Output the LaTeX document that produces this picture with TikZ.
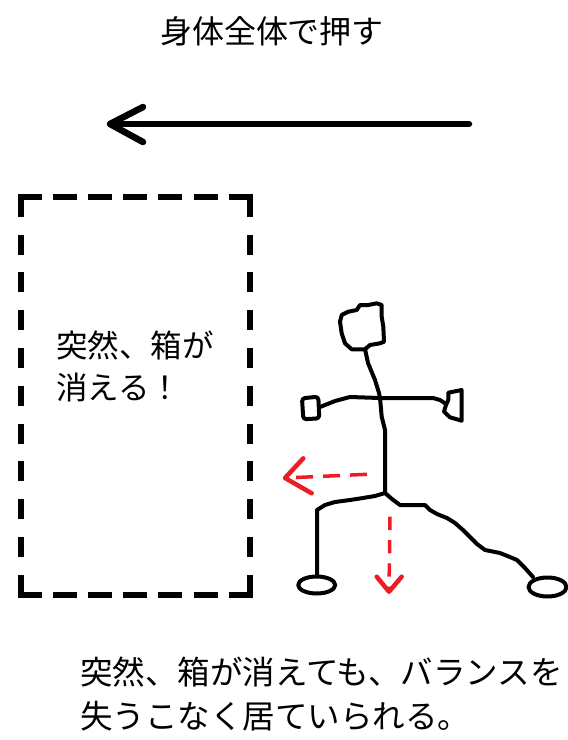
\documentclass[tikz,border=0pt]{standalone}
\usepackage{fontspec}
\setmainfont{Noto Sans CJK JP}
\definecolor{paintred}{RGB}{237,28,36}
\begin{document}
\begin{tikzpicture}[x=1pt,y=-1pt,
  label/.style={font=\fontsize{31.5}{42}\selectfont, inner sep=0pt, align=left},
  boxedge/.style={line width=5.5pt, line cap=butt},
  figure/.style={line width=4pt, line cap=round, line join=round},
  bigarrow/.style={line width=6.5pt, line cap=round, line join=round},
  hint/.style={paintred, line width=3.5pt, line cap=butt},
  hinthead/.style={paintred, line width=4.5pt, line cap=round, line join=round}]
\useasboundingbox (0,0) rectangle (568,740);

% heading and push direction
\node[label, font=\fontsize{32}{42}\selectfont] (title) at (272,31) {身体全体で押す};
\coordinate (pushstart) at (469,124);
\coordinate (pushtip) at (110,124);
\draw[bigarrow] (pushstart) -- (pushtip);
\draw[bigarrow] ([shift={(33,-17)}]pushtip) -- (pushtip) -- ([shift={(33,18)}]pushtip);

% the box that vanishes
\node[minimum width=229pt, minimum height=398pt, inner sep=0pt] (box) at (135.5,396) {};
\draw[boxedge, dash pattern=on 24pt off 11.1pt]
  ([xshift=-2.75pt]box.north west) -- ([xshift=2.75pt]box.north east);
\draw[boxedge, dash pattern=on 24pt off 11.1pt]
  ([xshift=-2.75pt]box.south west) -- ([xshift=2.75pt]box.south east);
\draw[boxedge, dash pattern=on 20pt off 17.8pt] (box.north west) -- (box.south west);
\draw[boxedge, dash pattern=on 20pt off 17.8pt] (box.north east) -- (box.south east);
\node[label, anchor=west] (boxtext) at (56,366) {突然、箱が\\消える！};

% stick figure
\coordinate (neck) at (365,349);
\coordinate (shoulder) at (380,398);
\coordinate (hip) at (385,493);
\draw[figure] (345,343.3) -- (341.7,333.3) -- (340,321.7) -- (341.7,315) -- (348.3,311.7)
  -- (356.7,310) -- (360,305) -- (368.3,305) -- (376.7,303.3) -- (381.7,305)
  -- (381.7,316.7) -- (383.3,326.7) -- (384,341.7) -- (380,343.3) -- (370,345)
  -- (365,349.3) -- (351.7,349.3) -- cycle;
\draw[figure] (neck) -- (368,363) -- (375,380) -- (379,393) -- (shoulder)
  -- (381.7,416.7) -- (385,430) -- (385,470) -- (hip);
% arms and hands
\draw[figure] (shoulder) -- (350,397) -- (335,401) -- (320,407);
\draw[figure, rounded corners=3pt] (302,398.3) -- (318.3,396.7) -- (319.3,418.3) -- (303.3,419.3) -- cycle;
\draw[figure] (shoulder) -- (433,398) -- (440,400) -- (446,404);
\draw[figure] (448.3,392.7) -- (461.7,390) -- (461.7,420.7) -- (450,417.3)
  -- (444,411.7) -- (446,405) -- (448.3,400) -- cycle;
% legs and feet
\draw[figure] (hip) -- (375,496) -- (363,498) -- (350,500) -- (335,502) -- (325,505)
  -- (317,510) -- (317,576);
\draw[figure] (316.7,585) ellipse (18.5pt and 8.5pt);
\draw[figure] (hip) -- (392,499) -- (400,505) -- (425,505) -- (430,510) -- (437,514)
  -- (447,518) -- (455,523) -- (463,530) -- (470,537) -- (477,544) -- (485,550)
  -- (500,553) -- (510,557) -- (517,560) -- (525,568) -- (533,577);
\draw[figure] (547.5,587) ellipse (19pt and 9.5pt);

% red hints: no push back, weight stays down
\coordinate (backstart) at (367,474.3);
\coordinate (backtip) at (285,478);
\draw[hint, dash pattern=on 17pt off 10pt] (backstart) -- (backtip);
\draw[hinthead] (303.3,458.3) -- (backtip) -- (311.7,493.3);
\coordinate (downstart) at (390,516.7);
\coordinate (downtip) at (389,591.7);
\draw[hint, dash pattern=on 13.3pt off 10pt] (downstart) -- (downtip);
\draw[hinthead] (376.7,576.7) -- (downtip) -- (401.7,576.7);

% conclusion
\node[label, anchor=west, font=\fontsize{32.5}{44}\selectfont] (summary) at (80,694) {突然、箱が消えても、バランスを\\失うこなく居ていられる。};
\end{tikzpicture}
\end{document}
